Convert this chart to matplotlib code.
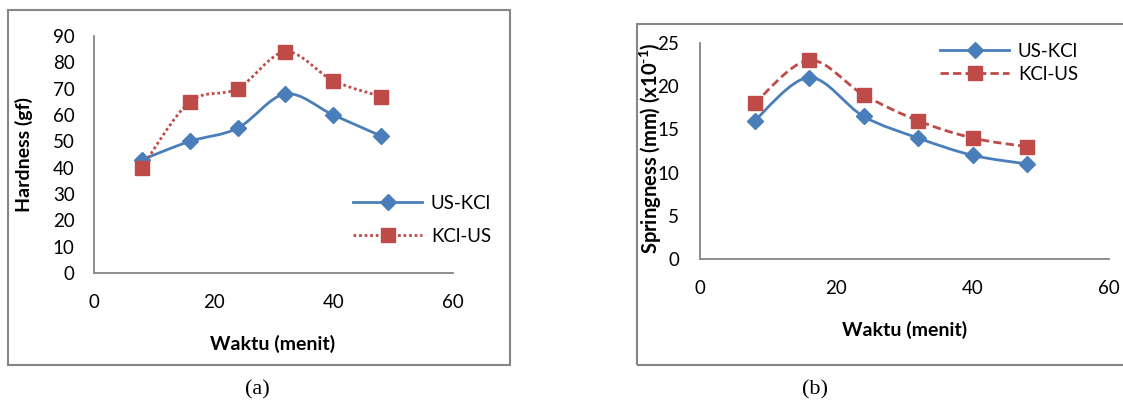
import numpy as np
import matplotlib.pyplot as plt
from matplotlib.path import Path
from matplotlib.patches import PathPatch, Rectangle
from matplotlib.lines import Line2D

waktu = [8, 16, 24, 32, 40, 48]

hard_us_kcl = [43, 50, 55, 68, 60, 52]
hard_kcl_us = [40, 65, 70, 84, 73, 67]

spring_us_kcl = [16, 21, 16.5, 14, 12, 11]
spring_kcl_us = [18, 23, 19, 16, 14, 13]

BLUE = '#4a7ebb'
RED = '#be4b48'
GREY = '#868686'
FONT = ['Lato', 'DejaVu Sans']

plt.rcParams['font.family'] = FONT
plt.rcParams['mathtext.fontset'] = 'custom'
plt.rcParams['mathtext.rm'] = 'Lato:bold'
plt.rcParams['mathtext.bf'] = 'Lato:bold'

W, H = 1123, 403
TICK = 13.5
LAB = 14


def smooth_path(x, y):
    # excel style smoothed line: cubic bezier through the points
    pts = np.column_stack([x, y]).astype(float)
    verts = [pts[0]]
    codes = [Path.MOVETO]
    n = len(pts)
    for i in range(n - 1):
        p0 = pts[i - 1] if i > 0 else pts[i]
        p1 = pts[i]
        p2 = pts[i + 1]
        p3 = pts[i + 2] if i + 2 < n else pts[i + 1]
        c1 = p1 + (p2 - p0) / 6.0
        c2 = p2 - (p3 - p1) / 6.0
        verts += [c1, c2, p2]
        codes += [Path.CURVE4] * 3
    return Path(verts, codes)


def series(ax, x, y, color, ls, marker, ms, label):
    patch = PathPatch(smooth_path(x, y), facecolor='none', edgecolor=color,
                      lw=2.0, linestyle=ls, zorder=2)
    ax.add_patch(patch)
    ax.plot(x, y, ls='none', marker=marker, ms=ms, color=color, zorder=3)
    return Line2D([], [], color=color, lw=2.0, ls=ls, marker=marker, ms=ms, label=label)


def style_axes(ax):
    for s in ['top', 'right']:
        ax.spines[s].set_visible(False)
    for s in ['left', 'bottom']:
        ax.spines[s].set_color(GREY)
        ax.spines[s].set_linewidth(1.3)
    ax.tick_params(length=0, labelsize=TICK, colors='black')
    ax.tick_params(axis='x', pad=15)
    ax.tick_params(axis='y', pad=14)
    ax.set_xlim(0, 60)
    ax.set_xticks([0, 20, 40, 60])


fig = plt.figure(figsize=(W / 100, H / 100), dpi=100)

# frame boxes
fig.add_artist(Rectangle((8 / W, 1 - 365 / H), 502 / W, 355 / H, transform=fig.transFigure,
                         facecolor='none', edgecolor=GREY, lw=1.5))
fig.add_artist(Rectangle((637 / W, 1 - 365 / H), 500 / W, 341 / H, transform=fig.transFigure,
                         facecolor='none', edgecolor=GREY, lw=1.5))

# (a) hardness
ax1 = fig.add_axes([94 / W, 1 - 273 / H, 359 / W, 237 / H])
style_axes(ax1)
ax1.set_ylim(0, 90)
ax1.set_yticks(range(0, 91, 10))
h1 = series(ax1, waktu, hard_us_kcl, BLUE, '-', 'D', 8.5, 'US-KCl')
h2 = series(ax1, waktu, hard_kcl_us, RED, (0, (1, 1)), 's', 9.5, 'KCl-US')
ax1.set_xlabel('Waktu (menit)', fontsize=LAB, fontweight='bold')
ax1.xaxis.set_label_coords(0.4986, -0.262)
ax1.set_ylabel('Hardness (gf)', fontsize=LAB, fontweight='bold')
ax1.yaxis.set_label_coords(-0.17, 0.498)
ax1.legend(handles=[h1, h2], loc='upper left', bbox_to_anchor=(353 / W, 1 - 195 / H),
           bbox_transform=fig.transFigure, frameon=False, fontsize=TICK,
           handlelength=3.7, labelspacing=0.85, handletextpad=0.45,
           borderaxespad=0, borderpad=0)

# (b) springness
ax2 = fig.add_axes([700 / W, 1 - 259 / H, 409 / W, 216 / H])
style_axes(ax2)
ax2.set_ylim(0, 25)
ax2.set_yticks(range(0, 26, 5))
ax2.tick_params(axis='y', pad=15)
g1 = series(ax2, waktu, spring_us_kcl, BLUE, '-', 'D', 8.5, 'US-KCl')
g2 = series(ax2, waktu, spring_kcl_us, RED, (0, (3, 1.5)), 's', 9.5, 'KCl-US')
ax2.set_xlabel('Waktu (menit)', fontsize=LAB, fontweight='bold')
ax2.xaxis.set_label_coords(0.499, -0.287)
ax2.set_ylabel('Springness (mm) (x10$^{\\text{-1}}$)', fontsize=14.5, fontweight='bold')
ax2.yaxis.set_label_coords(-0.088, 0.514)
ax2.legend(handles=[g1, g2], loc='upper left', bbox_to_anchor=(940 / W, 1 - 43 / H),
           bbox_transform=fig.transFigure, frameon=False, fontsize=TICK,
           handlelength=3.7, labelspacing=0.3, handletextpad=0.45,
           borderaxespad=0, borderpad=0)

fig.text(257 / W, 1 - 390 / H, '(a)', fontsize=16, family=['Liberation Serif', 'DejaVu Serif'],
         ha='center', va='center')
fig.text(815 / W, 1 - 390 / H, '(b)', fontsize=16, family=['Liberation Serif', 'DejaVu Serif'],
         ha='center', va='center')

fig.savefig('out.png', dpi=100)
